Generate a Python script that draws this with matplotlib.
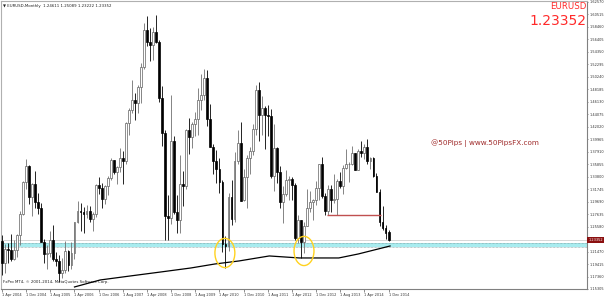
"""
plot.py

EURUSD monthly candlestick chart (MT4 style screenshot).
"""

import matplotlib
matplotlib.use("Agg")
import matplotlib.pyplot as plt
from matplotlib.patches import Ellipse
import numpy as np

# -----------------------
# Data (monthly, Jan 2004 - Dec 2014)
# -----------------------
opens = [
    1.2592, 1.2457, 1.2477, 1.2317, 1.1965, 1.2194, 1.2175, 1.2023, 1.2166, 1.2427, 1.2756, 1.3283,
    1.3554, 1.3036, 1.3254, 1.2963, 1.2868, 1.2302, 1.2100, 1.2124, 1.2336, 1.2022, 1.1990, 1.1789,
    1.1836, 1.2160, 1.1925, 1.2115, 1.2625, 1.2815, 1.2790, 1.2770, 1.2815, 1.2680, 1.2760, 1.3240,
    1.3200, 1.3017, 1.3231, 1.3357, 1.3650, 1.3453, 1.3535, 1.3680, 1.3640, 1.4260, 1.4480, 1.4640,
    1.4590, 1.4860, 1.5180, 1.5785, 1.5600, 1.5550, 1.5760, 1.5600, 1.4680, 1.4090, 1.2730, 1.2700,
    1.3970, 1.2800, 1.2670, 1.3260, 1.3230, 1.4150, 1.4030, 1.4250, 1.4330, 1.4640, 1.4720, 1.5000,
    1.4320, 1.3870, 1.3630, 1.3510, 1.3290, 1.2270, 1.2230, 1.3050, 1.2680, 1.3630, 1.3930, 1.3000,
    1.3380, 1.3690, 1.3800, 1.4160, 1.4810, 1.4390, 1.4500, 1.4390, 1.4380, 1.3390, 1.3850, 1.3450,
    1.2960, 1.3090, 1.3330, 1.3340, 1.3240, 1.2370, 1.2660, 1.2300, 1.2570, 1.2860, 1.2960, 1.2990,
    1.3190, 1.3580, 1.3060, 1.2820, 1.3170, 1.2990, 1.3010, 1.3300, 1.3220, 1.3520, 1.3580, 1.3590,
    1.3760, 1.3490, 1.3800, 1.3770, 1.3870, 1.3630, 1.3690, 1.3390, 1.3130, 1.2630, 1.2530, 1.2461,
]
highs = [
    1.2898, 1.2931, 1.2493, 1.2420, 1.2274, 1.2290, 1.2437, 1.2341, 1.2442, 1.2815, 1.3299, 1.3667,
    1.3571, 1.3270, 1.3479, 1.3115, 1.2940, 1.2354, 1.2247, 1.2488, 1.2586, 1.2146, 1.2094, 1.2041,
    1.2323, 1.2170, 1.2296, 1.2640, 1.2979, 1.2944, 1.2875, 1.2912, 1.2898, 1.2797, 1.3250, 1.3366,
    1.3270, 1.3247, 1.3393, 1.3681, 1.3660, 1.3550, 1.3852, 1.3795, 1.4280, 1.4500, 1.4967, 1.4757,
    1.4880, 1.5240, 1.5905, 1.6020, 1.5820, 1.5840, 1.6038, 1.5620, 1.4865, 1.4140, 1.3080, 1.4720,
    1.4050, 1.3080, 1.3740, 1.3470, 1.4170, 1.4340, 1.4280, 1.4450, 1.4840, 1.5060, 1.5145, 1.5140,
    1.4580, 1.3920, 1.3820, 1.3690, 1.3330, 1.2400, 1.3110, 1.3330, 1.3790, 1.4150, 1.4280, 1.3500,
    1.3740, 1.3860, 1.4250, 1.4880, 1.4940, 1.4700, 1.4540, 1.4550, 1.4490, 1.4250, 1.3870, 1.3550,
    1.3230, 1.3490, 1.3390, 1.3380, 1.3280, 1.2750, 1.2670, 1.2640, 1.3170, 1.3140, 1.3010, 1.3310,
    1.3590, 1.3710, 1.3110, 1.3240, 1.3240, 1.3420, 1.3340, 1.3450, 1.3570, 1.3830, 1.3620, 1.3890,
    1.3770, 1.3830, 1.3970, 1.3910, 1.3993, 1.3700, 1.3700, 1.3440, 1.3170, 1.2890, 1.2580, 1.2509,
]
lows = [
    1.2390, 1.2377, 1.2081, 1.1759, 1.1793, 1.1954, 1.1984, 1.2005, 1.2063, 1.2262, 1.2752, 1.3178,
    1.2934, 1.2727, 1.2871, 1.2765, 1.2298, 1.1957, 1.1867, 1.2063, 1.1990, 1.1911, 1.1640, 1.1704,
    1.1800, 1.1825, 1.1860, 1.2030, 1.2620, 1.2477, 1.2458, 1.2700, 1.2633, 1.2480, 1.2716, 1.3090,
    1.2866, 1.2935, 1.3070, 1.3320, 1.3415, 1.3265, 1.3460, 1.3260, 1.3580, 1.4060, 1.4420, 1.4310,
    1.4430, 1.4590, 1.5150, 1.5520, 1.5285, 1.5300, 1.5570, 1.4600, 1.3880, 1.2330, 1.2330, 1.2600,
    1.2760, 1.2455, 1.2455, 1.2890, 1.3170, 1.3750, 1.3850, 1.4050, 1.4060, 1.4480, 1.4640, 1.4220,
    1.3860, 1.3430, 1.3270, 1.3110, 1.2140, 1.1876, 1.2150, 1.2590, 1.2640, 1.3590, 1.2970, 1.2970,
    1.2860, 1.3430, 1.3740, 1.4060, 1.3970, 1.4070, 1.3830, 1.4050, 1.3360, 1.3150, 1.3270, 1.2860,
    1.2620, 1.3060, 1.3000, 1.3000, 1.2330, 1.2290, 1.2042, 1.2130, 1.2560, 1.2800, 1.2660, 1.2920,
    1.3000, 1.3030, 1.2750, 1.2740, 1.2800, 1.2950, 1.2750, 1.3190, 1.3100, 1.3500, 1.3290, 1.3570,
    1.3480, 1.3480, 1.3700, 1.3670, 1.3590, 1.3500, 1.3380, 1.3120, 1.2570, 1.2500, 1.2360, 1.2322,
]
closes = [
    1.2457, 1.2477, 1.2317, 1.1965, 1.2194, 1.2175, 1.2023, 1.2166, 1.2427, 1.2756, 1.3283, 1.3554,
    1.3036, 1.3254, 1.2963, 1.2868, 1.2302, 1.2100, 1.2124, 1.2336, 1.2022, 1.1990, 1.1789, 1.1836,
    1.2160, 1.1925, 1.2115, 1.2625, 1.2815, 1.2790, 1.2770, 1.2815, 1.2680, 1.2760, 1.3240, 1.3200,
    1.3017, 1.3231, 1.3357, 1.3650, 1.3453, 1.3535, 1.3680, 1.3640, 1.4260, 1.4480, 1.4640, 1.4590,
    1.4860, 1.5180, 1.5785, 1.5600, 1.5550, 1.5760, 1.5600, 1.4680, 1.4090, 1.2730, 1.2700, 1.3970,
    1.2800, 1.2670, 1.3260, 1.3230, 1.4150, 1.4030, 1.4250, 1.4330, 1.4640, 1.4720, 1.5000, 1.4320,
    1.3870, 1.3630, 1.3510, 1.3290, 1.2270, 1.2230, 1.3050, 1.2680, 1.3630, 1.3930, 1.2980, 1.3380,
    1.3690, 1.3800, 1.4160, 1.4810, 1.4390, 1.4500, 1.4390, 1.4380, 1.3390, 1.3850, 1.3450, 1.2960,
    1.3090, 1.3330, 1.3340, 1.3240, 1.2370, 1.2660, 1.2300, 1.2570, 1.2860, 1.2960, 1.2990, 1.3190,
    1.3580, 1.3060, 1.2820, 1.3170, 1.2990, 1.3010, 1.3300, 1.3220, 1.3520, 1.3580, 1.3590, 1.3760,
    1.3490, 1.3800, 1.3770, 1.3870, 1.3630, 1.3690, 1.3390, 1.3130, 1.2630, 1.2530, 1.2450, 1.2335,
]

# month index of each candle, 0 = Apr 2004
months = np.arange(len(opens)) - 3

# long moving average line (month index, price)
ma_months = [24.0, 32.5, 42.5, 52.5, 62.5, 70.5, 78.5, 88.5, 98.5, 111.5, 118.0, 128.5]
ma_values = [1.1564, 1.1679, 1.1745, 1.1810, 1.1876, 1.1942, 1.1992, 1.2074, 1.2041, 1.2041, 1.2107, 1.2238]

# x axis labels
x_tick_months = list(range(0, 129, 8))
x_tick_labels = [
    "1 Apr 2004", "1 Dec 2004", "1 Aug 2005", "1 Apr 2006", "1 Dec 2006",
    "1 Aug 2007", "1 Apr 2008", "1 Dec 2008", "1 Aug 2009", "1 Apr 2010",
    "1 Dec 2010", "1 Aug 2011", "1 Apr 2012", "1 Dec 2012", "1 Aug 2013",
    "1 Apr 2014", "1 Dec 2014",
]

# y axis labels
y_tick_labels = [
    "1.62570", "1.60515", "1.58460", "1.56405", "1.54350", "1.52295", "1.50240", "1.48185",
    "1.46130", "1.44075", "1.42020", "1.39965", "1.37910", "1.35855", "1.33800", "1.31745",
    "1.29690", "1.27635", "1.25580", "1.23525", "1.21470", "1.19415", "1.17360", "1.15305",
]

# horizontal levels
last_price = 1.23352
zone_top = 1.2280
zone_bottom = 1.2215
resistance = 1.2748
resistance_from = 107.5
resistance_to = 125.5

# circled lows (month index, price)
circle_months = [73.8, 100.0]
circle_prices = [1.2123, 1.2156]


# -----------------------
# Figure
# -----------------------
fig = plt.figure(figsize=(6.04, 2.97), dpi=100)
fig.patch.set_facecolor("white")

ax = fig.add_axes([1 / 604, 8 / 297, 586 / 604, 288 / 297])

ax.set_xlim(-0.33, 193.7)
ax.set_ylim(1.1531, 1.6268)

# candles
for m, o, h, l, c in zip(months, opens, highs, lows, closes):
    if c >= o:
        ax.vlines(m, l, h, color="#707070", linewidth=0.6, zorder=3)
        ax.bar(m, c - o, bottom=o, width=0.62, facecolor="white",
               edgecolor="#606060", linewidth=0.5, zorder=4)
    else:
        ax.vlines(m, l, h, color="#000000", linewidth=0.6, zorder=3)
        ax.bar(m, o - c, bottom=c, width=0.62, facecolor="black",
               edgecolor="black", linewidth=0.5, zorder=4)

# moving average
ax.plot(ma_months, ma_values, color="black", linewidth=0.9, zorder=5)

# support zone
ax.axhspan(zone_bottom, zone_top, color="#a8ecef", zorder=1, linewidth=0)
ax.axhline(zone_top, color="#7a9a9c", linestyle=(0, (1, 1)), linewidth=0.5, zorder=2)
ax.axhline(zone_bottom, color="#7a9a9c", linestyle=(0, (1, 1)), linewidth=0.5, zorder=2)

# bid line
ax.axhline(last_price, color="#d0d0d0", linewidth=0.6, zorder=1)

# resistance line
ax.hlines(resistance, resistance_from, resistance_to, color="#c05050", linewidth=1.0, zorder=6)

# circles around the lows
for m, p in zip(circle_months, circle_prices):
    ax.add_patch(Ellipse((m, p), 6.6, 0.048, fill=False,
                         edgecolor="#ffd21f", linewidth=1.0, zorder=7))

# -----------------------
# Axes styling
# -----------------------
for side in ["top", "left"]:
    ax.spines[side].set_color("#b0b0b0")
    ax.spines[side].set_linewidth(0.8)
for side in ["bottom", "right"]:
    ax.spines[side].set_color("#808080")
    ax.spines[side].set_linewidth(0.8)

ax.yaxis.tick_right()
y_ticks = [1.6257 - i * 0.02055 for i in range(len(y_tick_labels))]
ax.set_yticks(y_ticks)
ax.set_yticklabels(y_tick_labels)
ax.tick_params(axis="y", length=1, width=0.5, colors="#606060",
               labelsize=2.5, pad=0.6)

ax.set_xticks(x_tick_months)
ax.set_xticklabels(x_tick_labels, ha="left")
ax.tick_params(axis="x", length=2, width=0.5, colors="#606060",
               labelsize=2.5, pad=1)
for lbl in ax.get_xticklabels():
    lbl.set_color("#303030")
for lbl in ax.get_yticklabels():
    lbl.set_color("#303030")

# -----------------------
# Texts
# -----------------------
ax.text(0.004, 0.99, "\u25bc EURUSD,Monthly  1.24611 1.25089 1.23222 1.23352",
        transform=ax.transAxes, fontsize=2.8, color="#202020", va="top", ha="left")

ax.text(0.004, 0.018, "FxPro MT4, \u00a9 2001-2014, MetaQuotes Software Corp.",
        transform=ax.transAxes, fontsize=2.8, color="#202020", va="bottom", ha="left")

ax.text(0.999, 0.995, "EURUSD", transform=ax.transAxes, fontsize=6.2,
        color="#ff2a2a", va="top", ha="right")
ax.text(0.999, 0.955, "1.23352", transform=ax.transAxes, fontsize=10,
        color="#ff2a2a", va="top", ha="right")

ax.text(0.825, 0.508, "@50Pips | www.50PipsFX.com", transform=ax.transAxes,
        fontsize=5.2, color="#a02c2c", va="center", ha="center")

# price box on the axis
ax.text(1.003, last_price, "1.23352", transform=ax.get_yaxis_transform(),
        fontsize=2.5, color="white", va="center", ha="left", zorder=10,
        bbox=dict(boxstyle="square,pad=0.4", facecolor="#8b1010", edgecolor="none"),
        clip_on=False)

plt.savefig("out.png", dpi=100, facecolor="white")
plt.close()
